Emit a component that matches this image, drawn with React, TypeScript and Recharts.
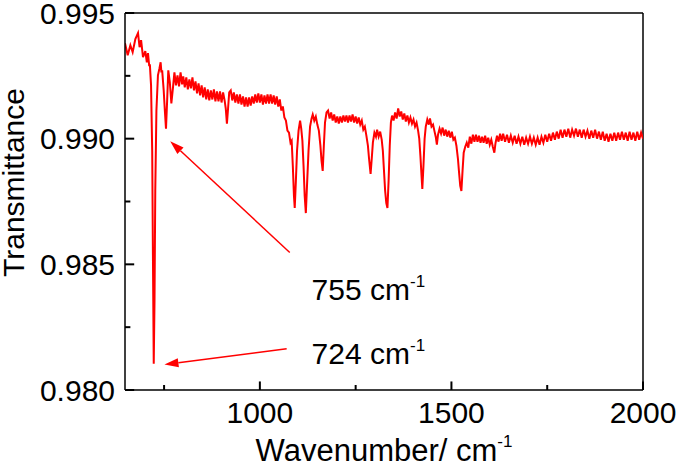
import React from 'react';
import { LineChart, Line, XAxis, YAxis, ReferenceLine, ReferenceDot, Label } from 'recharts';

// FTIR spectrum (wavenumber in cm-1, transmittance)
const wavenumber = [
  648, 655, 662, 668, 675, 682, 686, 690, 695, 701, 705, 708, 711, 713, 716, 719, 721, 723, 725, 727,
  730, 734, 738, 741, 743, 745, 749, 752, 755, 758, 761, 765, 769, 773, 777, 781, 785, 789, 793, 797,
  800, 804, 808, 812, 816, 820, 824, 828, 832, 836, 840, 844, 848, 852, 856, 860, 864, 868, 872, 876,
  880, 884, 888, 892, 896, 900, 904, 908, 911, 914, 917, 920, 924, 928, 932, 936, 940, 944, 948, 952,
  956, 960, 964, 968, 972, 976, 980, 984, 988, 992, 996, 1000, 1004, 1008, 1012, 1016, 1020, 1024, 1028, 1032,
  1036, 1040, 1044, 1048, 1052, 1056, 1060, 1064, 1068, 1072, 1076, 1080, 1083, 1086, 1089, 1091, 1094, 1097, 1101, 1105,
  1108, 1111, 1114, 1117, 1120, 1123, 1127, 1131, 1135, 1138, 1142, 1146, 1150, 1154, 1158, 1161, 1164, 1167, 1170, 1174,
  1178, 1182, 1186, 1190, 1194, 1198, 1202, 1206, 1210, 1214, 1218, 1222, 1226, 1230, 1234, 1238, 1242, 1246, 1250, 1254,
  1258, 1262, 1266, 1270, 1274, 1278, 1282, 1285, 1289, 1292, 1295, 1299, 1303, 1306, 1310, 1314, 1318, 1321, 1324, 1327,
  1330, 1333, 1336, 1339, 1342, 1345, 1349, 1353, 1357, 1361, 1365, 1369, 1373, 1377, 1381, 1385, 1389, 1393, 1397, 1401,
  1405, 1409, 1413, 1416, 1419, 1422, 1424, 1427, 1430, 1433, 1437, 1441, 1444, 1448, 1452, 1456, 1459, 1462, 1465, 1469,
  1473, 1477, 1481, 1485, 1489, 1493, 1497, 1501, 1505, 1509, 1513, 1517, 1520, 1523, 1526, 1529, 1532, 1536, 1540, 1544,
  1548, 1552, 1556, 1560, 1564, 1568, 1572, 1576, 1580, 1584, 1588, 1592, 1596, 1600, 1604, 1608, 1612, 1615, 1619, 1623,
  1627, 1631, 1635, 1640, 1645, 1650, 1655, 1660, 1665, 1670, 1675, 1680, 1685, 1690, 1695, 1700, 1705, 1710, 1715, 1720,
  1725, 1730, 1735, 1740, 1745, 1750, 1755, 1760, 1765, 1770, 1775, 1780, 1785, 1790, 1795, 1800, 1805, 1810, 1815, 1820,
  1825, 1830, 1835, 1840, 1845, 1850, 1855, 1860, 1865, 1870, 1875, 1880, 1885, 1890, 1895, 1900, 1905, 1910, 1915, 1920,
  1925, 1930, 1935, 1940, 1945, 1950, 1955, 1960, 1965, 1970, 1975, 1980, 1985, 1990, 1995, 2000,
];

const transmittance = [
  0.99380, 0.99332, 0.99372, 0.99344, 0.99396, 0.99420, 0.99364, 0.99392, 0.99324, 0.99348, 0.99304, 0.99340, 0.99292, 0.99292, 0.99212, 0.98952, 0.98512, 0.98104, 0.98352, 0.98792,
  0.99112, 0.99252, 0.99280, 0.99304, 0.99264, 0.99272, 0.99192, 0.99112, 0.99040, 0.99152, 0.99272, 0.99224, 0.99140, 0.99200, 0.99264, 0.99212, 0.99252, 0.99208, 0.99264, 0.99216,
  0.99248, 0.99204, 0.99244, 0.99196, 0.99236, 0.99200, 0.99244, 0.99192, 0.99228, 0.99180, 0.99220, 0.99172, 0.99212, 0.99164, 0.99204, 0.99156, 0.99196, 0.99152, 0.99192, 0.99156,
  0.99196, 0.99148, 0.99188, 0.99148, 0.99188, 0.99144, 0.99184, 0.99152, 0.99120, 0.99060, 0.99120, 0.99184, 0.99192, 0.99152, 0.99184, 0.99144, 0.99176, 0.99140, 0.99176, 0.99136,
  0.99168, 0.99128, 0.99164, 0.99128, 0.99164, 0.99132, 0.99168, 0.99140, 0.99176, 0.99144, 0.99180, 0.99144, 0.99176, 0.99136, 0.99172, 0.99140, 0.99176, 0.99140, 0.99176, 0.99140,
  0.99172, 0.99136, 0.99168, 0.99128, 0.99156, 0.99112, 0.99128, 0.99084, 0.99072, 0.99032, 0.99024, 0.98984, 0.98992, 0.98892, 0.98772, 0.98724, 0.98832, 0.98952, 0.99032, 0.99072,
  0.99040, 0.98992, 0.98892, 0.98772, 0.98704, 0.98812, 0.98952, 0.99048, 0.99080, 0.99096, 0.99072, 0.99088, 0.99056, 0.99032, 0.98972, 0.98912, 0.98872, 0.98972, 0.99064, 0.99104,
  0.99112, 0.99080, 0.99104, 0.99072, 0.99096, 0.99064, 0.99088, 0.99060, 0.99088, 0.99064, 0.99092, 0.99068, 0.99092, 0.99064, 0.99092, 0.99068, 0.99096, 0.99064, 0.99088, 0.99060,
  0.99084, 0.99056, 0.99072, 0.99036, 0.99048, 0.99012, 0.98972, 0.98920, 0.98860, 0.98920, 0.98984, 0.99024, 0.99008, 0.99036, 0.99008, 0.99028, 0.98996, 0.98952, 0.98872, 0.98792,
  0.98744, 0.98724, 0.98832, 0.98972, 0.99064, 0.99092, 0.99072, 0.99104, 0.99080, 0.99120, 0.99088, 0.99108, 0.99076, 0.99100, 0.99068, 0.99092, 0.99064, 0.99084, 0.99060, 0.99076,
  0.99048, 0.99064, 0.99032, 0.99000, 0.98932, 0.98852, 0.98800, 0.98892, 0.99000, 0.99048, 0.99076, 0.99056, 0.99080, 0.99048, 0.99056, 0.99028, 0.99008, 0.98976, 0.99016, 0.99040,
  0.99020, 0.99044, 0.99012, 0.99036, 0.99008, 0.99032, 0.99004, 0.99028, 0.98996, 0.99004, 0.98972, 0.98920, 0.98864, 0.98812, 0.98792, 0.98872, 0.98944, 0.98968, 0.98984, 0.98964,
  0.99008, 0.98980, 0.99016, 0.98988, 0.99016, 0.98988, 0.99012, 0.98984, 0.99008, 0.98984, 0.99012, 0.98980, 0.99004, 0.98976, 0.98996, 0.98968, 0.98944, 0.98982, 0.99012, 0.98988,
  0.99020, 0.98992, 0.99020, 0.98988, 0.99016, 0.98984, 0.99012, 0.98984, 0.99012, 0.98980, 0.99008, 0.98980, 0.99008, 0.98976, 0.99004, 0.98980, 0.99008, 0.98980, 0.99004, 0.98976,
  0.99004, 0.98976, 0.99008, 0.98984, 0.99016, 0.98988, 0.99020, 0.98992, 0.99024, 0.98996, 0.99028, 0.99000, 0.99036, 0.99004, 0.99036, 0.99008, 0.99040, 0.99004, 0.99036, 0.99012,
  0.99040, 0.99008, 0.99036, 0.99004, 0.99036, 0.99008, 0.99032, 0.99000, 0.99032, 0.99004, 0.99036, 0.99000, 0.99028, 0.98996, 0.99028, 0.98992, 0.99020, 0.98988, 0.99020, 0.98992,
  0.99024, 0.98992, 0.99024, 0.98996, 0.99028, 0.98996, 0.99024, 0.98992, 0.99028, 0.98996, 0.99024, 0.98992, 0.99028, 0.98996, 0.99024, 0.99000,
];

const spectrum = wavenumber.map((w, i) => ({ w, t: transmittance[i] }));

const X_MIN = 648;
const X_MAX = 2000;
const Y_MIN = 0.98;
const Y_MAX = 0.995;

const xTicks = [750, 1000, 1250, 1500, 1750, 2000];
const xLabelled = [1000, 1500, 2000];
const yTicks = [0.98, 0.9825, 0.985, 0.9875, 0.99, 0.9925, 0.995];
const yLabelled = [0.98, 0.985, 0.99, 0.995];

// inward tick lengths, in data units (about 8/5 px and 9/5 px)
const xTickLen = { major: 0.00034, minor: 0.0002 };
const yTickLen = { major: 24, minor: 14 };

// annotations: peak label, arrow tail, arrow head, text anchor (data coords)
const peakNames = ['755', '724'];
const arrowTails = [[1078, 0.98547], [1070, 0.98164]];
const arrowHeads = [[766, 0.9899], [751, 0.98101]];
const textAnchors = [[1135, 0.9836], [1135, 0.98104]];

const FONT = "'Liberation Sans', Arial, Helvetica, sans-serif";
const RED = '#ff0000';

const XTick = (props: any) => {
  const { x, y, payload } = props;
  if (!xLabelled.includes(payload.value)) return <g />;
  return (
    <text x={x} y={y} dy="0.71em" textAnchor="middle" fontSize={30} fontFamily={FONT} fill="#000">
      {payload.value}
    </text>
  );
};

const YTick = (props: any) => {
  const { x, y, payload } = props;
  if (!yLabelled.includes(payload.value)) return <g />;
  return (
    <text x={x} y={y} dy="0.355em" textAnchor="end" fontSize={30} fontFamily={FONT} fill="#000">
      {payload.value.toFixed(3)}
    </text>
  );
};

const Arrow = (props: any) => {
  const { x1, y1, x2, y2 } = props;
  const a = Math.atan2(y2 - y1, x2 - x1);
  const len = 14;
  const half = 4.5;
  const bx = x2 - len * Math.cos(a);
  const by = y2 - len * Math.sin(a);
  const p1 = `${bx + half * Math.sin(a)},${by - half * Math.cos(a)}`;
  const p2 = `${bx - half * Math.sin(a)},${by + half * Math.cos(a)}`;
  return (
    <g>
      <line x1={x1} y1={y1} x2={bx} y2={by} stroke={RED} strokeWidth={1.5} />
      <polygon points={`${x2},${y2} ${p1} ${p2}`} fill={RED} />
    </g>
  );
};

const PeakText = (name: string) => (props: any) => (
  <text x={props.cx} y={props.cy} fontSize={30} fontFamily={FONT} fill="#000">
    <tspan>{name} cm</tspan>
    <tspan dy={-13} fontSize={17}>-1</tspan>
  </text>
);

const XTitle = (props: any) => {
  const { x, y, width } = props.viewBox;
  return (
    <text x={x + width / 2} y={y + 71} textAnchor="middle" fontSize={31} fontFamily={FONT} fill="#000">
      <tspan>Wavenumber/ cm</tspan>
      <tspan dy={-14} fontSize={17}>-1</tspan>
    </text>
  );
};

const YTitle = (props: any) => {
  const { x, y, height } = props.viewBox;
  const cx = x + 24;
  const cy = y + height / 2 - 19;
  return (
    <text x={cx} y={cy} transform={`rotate(-90, ${cx}, ${cy})`} textAnchor="middle" fontSize={30} fontFamily={FONT} fill="#000">
      Transmittance
    </text>
  );
};

export default function App() {
  return (
    <div style={{ position: 'absolute', left: 0, top: 0, width: 676, height: 465, background: '#fff' }}>
      <LineChart width={676} height={465} data={spectrum} margin={{ top: 13, right: 33, bottom: 0, left: 0 }}>
        <XAxis
          dataKey="w"
          type="number"
          domain={[X_MIN, X_MAX]}
          allowDataOverflow
          ticks={xTicks}
          interval={0}
          tickSize={0}
          tickMargin={12}
          tickLine={false}
          tick={<XTick />}
          axisLine={{ stroke: '#000', strokeWidth: 1.5 }}
          height={75}
        >
          <Label content={<XTitle />} />
        </XAxis>
        <YAxis
          type="number"
          domain={[Y_MIN, Y_MAX]}
          allowDataOverflow
          ticks={yTicks}
          interval={0}
          tickSize={0}
          tickMargin={10}
          tickLine={false}
          tick={<YTick />}
          axisLine={{ stroke: '#000', strokeWidth: 1.5 }}
          width={125}
        >
          <Label content={<YTitle />} />
        </YAxis>
        <ReferenceLine y={Y_MAX} stroke="#000" strokeWidth={1.5} />
        <ReferenceLine x={X_MAX} stroke="#000" strokeWidth={1.5} />
        {xTicks.map((v) => (
          <ReferenceLine
            key={`xt-${v}`}
            segment={[
              { x: v, y: Y_MIN },
              { x: v, y: Y_MIN + (xLabelled.includes(v) ? xTickLen.major : xTickLen.minor) },
            ]}
            stroke="#000"
            strokeWidth={2}
            ifOverflow="visible"
          />
        ))}
        {yTicks.map((v) => (
          <ReferenceLine
            key={`yt-${v}`}
            segment={[
              { x: X_MIN, y: v },
              { x: X_MIN + (yLabelled.includes(v) ? yTickLen.major : yTickLen.minor), y: v },
            ]}
            stroke="#000"
            strokeWidth={2}
            ifOverflow="visible"
          />
        ))}
        <Line
          type="linear"
          dataKey="t"
          stroke={RED}
          strokeWidth={2}
          dot={false}
          isAnimationActive={false}
        />
        {peakNames.map((name, i) => (
          <ReferenceLine
            key={`arrow-${name}`}
            segment={[
              { x: arrowTails[i][0], y: arrowTails[i][1] },
              { x: arrowHeads[i][0], y: arrowHeads[i][1] },
            ]}
            shape={<Arrow />}
          />
        ))}
        {peakNames.map((name, i) => (
          <ReferenceDot
            key={`text-${name}`}
            x={textAnchors[i][0]}
            y={textAnchors[i][1]}
            r={0}
            shape={PeakText(name)}
          />
        ))}
      </LineChart>
    </div>
  );
}
